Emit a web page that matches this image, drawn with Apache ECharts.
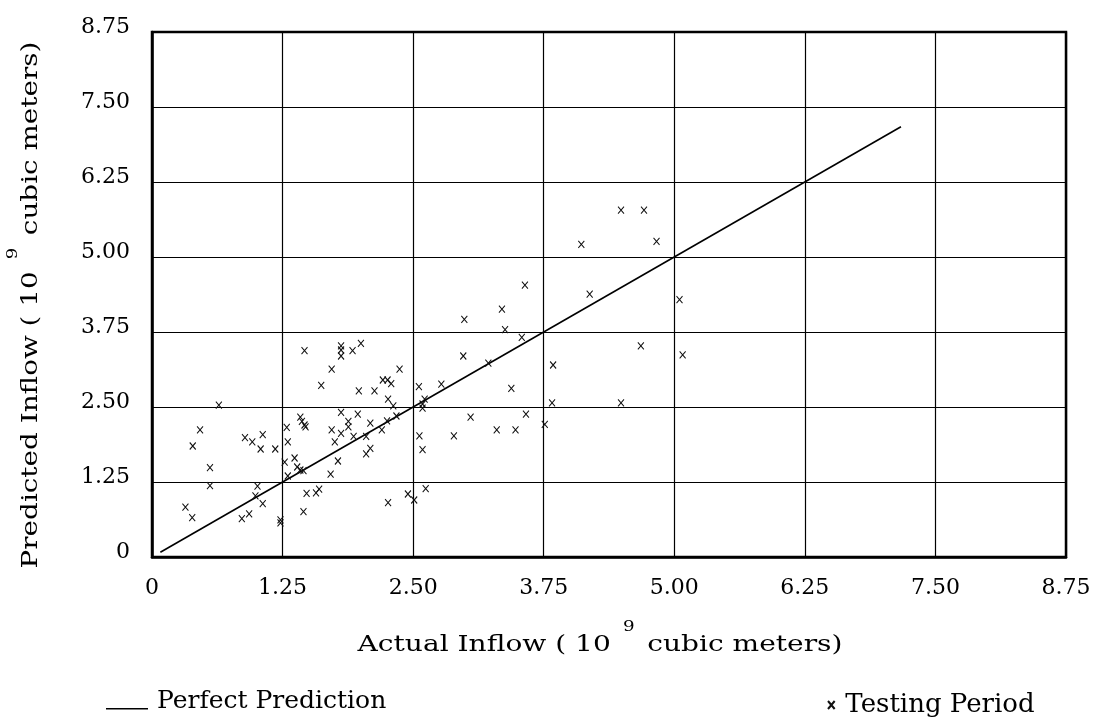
<!DOCTYPE html>
<html>
<head>
<meta charset="utf-8">
<script src="https://cdn.jsdelivr.net/npm/echarts@6/dist/echarts.min.js"></script>
<style>
html,body{margin:0;padding:0;background:#fff;}
#chart{width:1097px;height:721px;}
</style>
</head>
<body>
<div id="chart"></div>
<script>
// Axis ticks
const tickValues = [0, 1.25, 2.5, 3.75, 5, 6.25, 7.5, 8.75];
const tickLabels = ['0', '1.25', '2.50', '3.75', '5.00', '6.25', '7.50', '8.75'];

// Axis titles (base text, exponent, rest)
const xTitle = ['Actual Inflow ( 10', '9', ' cubic meters)'];
const yTitle = ['Predicted Inflow ( 10', '9', ' cubic meters)'];

// Perfect prediction line endpoints (x = y)
const perfectX = [0.08, 7.17];
const perfectY = [0.08, 7.17];

// Testing period points: actual (x) and predicted (y)
const actual = [
  0.32, 0.385, 0.39, 0.46, 0.555, 0.555, 0.64, 0.86, 0.93, 0.89,
  0.96, 1.06, 1.04, 1.18, 1.01, 0.99, 1.06, 1.23, 1.23, 1.29,
  1.30, 1.27, 1.30, 1.365, 1.39, 1.42, 1.45, 1.42, 1.435, 1.46,
  1.47, 1.46, 1.48, 1.57, 1.60, 1.45, 1.62, 1.72, 1.81, 1.81,
  1.81, 1.92, 2.00, 1.72, 1.81, 1.88, 1.88, 1.81, 1.75, 1.78,
  1.71, 2.05, 2.09, 2.37, 2.21, 2.255, 2.29, 1.98, 2.13, 2.26,
  2.31, 2.34, 2.25, 2.20, 1.97, 2.09, 1.93, 2.05, 2.98, 3.22,
  3.54, 3.44, 2.555, 2.77, 2.61, 2.59, 2.59, 3.05, 3.58, 3.30,
  3.48, 2.89, 2.56, 2.59, 3.76, 2.62, 2.45, 2.51, 2.26, 3.57,
  3.35, 2.99, 3.38, 4.49, 4.71, 4.11, 4.83, 4.19, 5.05, 4.68,
  5.08, 3.84, 3.83, 4.49
];
const predicted = [
  0.83, 0.655, 1.85, 2.12, 1.49, 1.19, 2.53, 0.64, 0.72, 1.99,
  1.92, 2.04, 1.80, 1.80, 1.18, 1.02, 0.89, 0.62, 0.57, 2.16,
  1.92, 1.58, 1.35, 1.65, 1.50, 1.45, 1.44, 2.33, 2.26, 2.20,
  2.17, 3.44, 1.06, 1.07, 1.13, 0.755, 2.86, 3.13, 3.52, 3.45,
  3.35, 3.44, 3.56, 2.12, 2.06, 2.17, 2.26, 2.41, 1.92, 1.60,
  1.38, 1.72, 1.81, 3.13, 2.95, 2.95, 2.89, 2.77, 2.77, 2.63,
  2.52, 2.35, 2.27, 2.12, 2.38, 2.23, 2.01, 2.01, 3.35, 3.23,
  3.66, 2.81, 2.84, 2.88, 2.63, 2.55, 2.48, 2.33, 2.38, 2.12,
  2.12, 2.02, 2.02, 1.79, 2.21, 1.14, 1.05, 0.95, 0.905, 4.53,
  4.13, 3.96, 3.79, 5.78, 5.78, 5.21, 5.26, 4.38, 4.29, 3.52,
  3.37, 3.20, 2.57, 2.57
];

const FONT = 'DejaVu Serif';
const labelFor = v => {
  const i = tickValues.findIndex(t => Math.abs(t - v) < 1e-6);
  return i >= 0 ? tickLabels[i] : '';
};
const titleRich = {
  a: {fontFamily: FONT, fontSize: 23, fill: '#000', lineHeight: 50},
  s: {fontFamily: FONT, fontSize: 15, fill: '#000', lineHeight: 14, verticalAlign: 'top', padding: [0, 3, 0, 10]}
};
const titleText = t => '{a|' + t[0] + '}{s|' + t[1] + '}{a|' + t[2] + '}';

const chart = echarts.init(document.getElementById('chart'), null, {renderer: 'canvas'});
const option = {
  backgroundColor: '#fff',
  animation: false,
  grid: {
    left: 152, right: 31, top: 32, bottom: 164,
    show: true, borderColor: '#000', borderWidth: 2.5, backgroundColor: 'transparent'
  },
  xAxis: {
    type: 'value', min: 0, max: 8.75, interval: 1.25,
    axisLine: {show: true, lineStyle: {color: '#000', width: 2.5}},
    axisTick: {show: false},
    axisLabel: {formatter: labelFor, fontFamily: FONT, fontSize: 22, color: '#000', margin: 20},
    splitLine: {show: true, lineStyle: {color: '#000', width: 1.2}}
  },
  yAxis: {
    type: 'value', min: 0, max: 8.75, interval: 1.25,
    axisLine: {show: true, lineStyle: {color: '#000', width: 2.5}},
    axisTick: {show: false},
    axisLabel: {formatter: labelFor, fontFamily: FONT, fontSize: 22, color: '#000', margin: 22, verticalAlign: 'bottom', lineHeight: 10},
    splitLine: {show: true, lineStyle: {color: '#000', width: 1.2}}
  },
  graphic: [
    {
      type: 'text', x: 600, y: 645, scaleX: 1.22, silent: true,
      style: {text: titleText(xTitle), rich: titleRich, align: 'center', verticalAlign: 'middle'}
    },
    {
      type: 'text', x: 31, y: 305, scaleX: 1.21, rotation: Math.PI / 2, silent: true,
      style: {text: titleText(yTitle), rich: titleRich, align: 'center', verticalAlign: 'middle'}
    }
  ],
  legend: [
    {
      data: ['Perfect Prediction'], left: 101, top: 684, selectedMode: false,
      itemWidth: 42, itemHeight: 22,
      icon: 'path://M0,0L0.01,0L0.01,0.01Z M0,22L0.01,22L0.01,21.99Z M0,17.5L42,17.5L42,19L0,19Z',
      textStyle: {fontFamily: FONT, fontSize: 25, color: '#000', padding: [0, 0, 0, 4]}
    },
    {
      data: ['Testing Period'], left: 822, top: 687, selectedMode: false,
      itemWidth: 8, itemHeight: 8,
      textStyle: {fontFamily: FONT, fontSize: 26, color: '#000', padding: [0, 0, 0, 5]}
    }
  ],
  series: [
    {
      name: 'Perfect Prediction', type: 'line',
      data: perfectX.map((x, i) => [x, perfectY[i]]),
      showSymbol: false, symbol: 'none',
      lineStyle: {color: '#000', width: 1.6},
      itemStyle: {color: '#000'},
      z: 3
    },
    {
      name: 'Testing Period', type: 'scatter',
      data: actual.map((x, i) => [x, predicted[i]]),
      symbol: 'path://M0,0L10,12M10,0L0,12',
      symbolSize: [6, 7],
      itemStyle: {color: 'rgba(0,0,0,0)', borderColor: '#111', borderWidth: 1.1, opacity: 1},
      z: 4
    }
  ]
};
chart.setOption(option);
</script>
</body>
</html>
